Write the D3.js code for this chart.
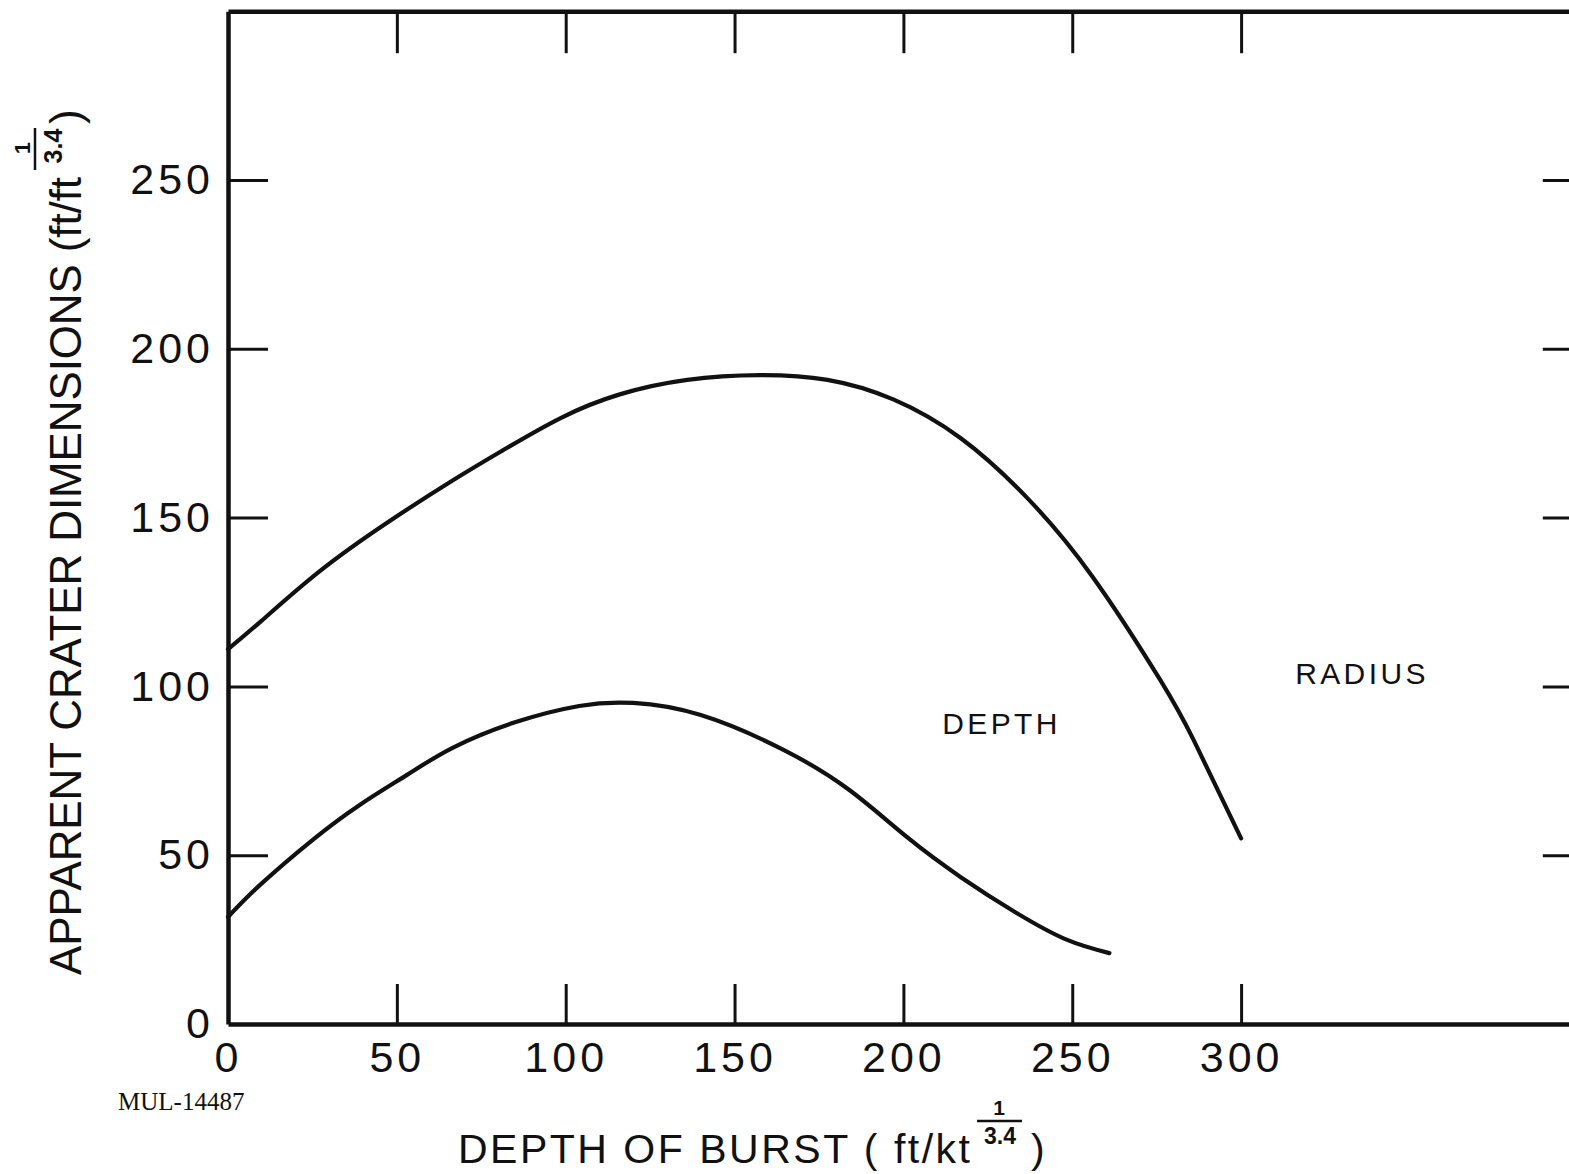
<!DOCTYPE html>
<html><head><meta charset="utf-8">
<script src="https://cdn.jsdelivr.net/npm/d3@7"></script>
<style>body{margin:0;background:#fff}</style>
</head><body>
<svg id="chart" width="1569" height="1174"></svg>
<script>
// ---- data ----
const xTicks = [0, 50, 100, 150, 200, 250, 300];
const yTicks = [0, 50, 100, 150, 200, 250];
const radiusX = [0, 10, 27, 47, 66.5, 81.5, 98.5, 116, 136, 157.5, 177.5, 197, 217, 236.5, 256, 276, 286, 300];
const radiusY = [111, 119.5, 134, 148.4, 161, 170, 179.5, 186.5, 190.8, 192.2, 190.8, 185, 173.5, 156, 132.5, 102, 84, 55];
const depthX = [0, 9.5, 25, 39, 53, 66.5, 84.5, 104, 120, 140, 164.5, 184, 201, 217, 233.5, 248.5, 261];
const depthY = [31.7, 41.2, 54.5, 64.9, 73.8, 81.8, 89.2, 94.2, 95.1, 91.5, 81.2, 69.3, 55.4, 43.5, 32.9, 24.9, 21];
const curveLabels = ["RADIUS", "DEPTH"];
const curveLabelX = [316, 211.5];
const curveLabelY = [104, 89.2];
const sheetId = "MUL-14487";

// ---- scales ----
const svg = d3.select("#chart");
const x = d3.scaleLinear().domain([0, 400]).range([228, 228 + 400 * 3.377]);
const y = d3.scaleLinear().domain([0, 300]).range([1024, 1024 - 300 * 3.376]);

const ink = "#111";
const tickFont = "'Liberation Sans', Arial, sans-serif";

function styleAxis(sel, hideZero) {
  sel.select(".domain").attr("stroke", ink).attr("stroke-width", 4.5);
  sel.selectAll(".tick line").attr("stroke", ink).attr("stroke-width", 3);
  if (hideZero) sel.selectAll(".tick").filter(d => d === 0).select("line").remove();
  sel.selectAll(".tick text").attr("fill", ink).attr("font-family", tickFont)
    .attr("font-size", 43).attr("letter-spacing", 4);
}

// bottom axis
svg.append("g").attr("transform", `translate(0,${y(0)})`)
  .call(d3.axisBottom(x).tickValues(xTicks).tickSize(-40).tickSizeOuter(0).tickPadding(17))
  .call(s => styleAxis(s, true));
// left axis
svg.append("g").attr("transform", `translate(${x(0)},0)`)
  .call(d3.axisLeft(y).tickValues(yTicks).tickSize(-40).tickSizeOuter(0).tickPadding(14))
  .call(s => styleAxis(s, true));
// top axis
svg.append("g").attr("transform", `translate(0,${y(300)})`)
  .call(d3.axisTop(x).tickValues(xTicks.slice(1)).tickSize(-42).tickSizeOuter(0).tickFormat(""))
  .call(s => styleAxis(s, false));
// right axis
svg.append("g").attr("transform", `translate(${x(400)},0)`)
  .call(d3.axisRight(y).tickValues(yTicks.slice(1)).tickSize(-36).tickSizeOuter(0).tickFormat(""))
  .call(s => styleAxis(s, false));

// curves
const line = d3.line().x(d => x(d[0])).y(d => y(d[1])).curve(d3.curveNatural);
const series = [d3.zip(radiusX, radiusY), d3.zip(depthX, depthY)];
svg.selectAll("path.curve").data(series).enter().append("path")
  .attr("class", "curve").attr("d", line)
  .attr("fill", "none").attr("stroke", ink).attr("stroke-width", 4.2)
  .attr("stroke-linecap", "round").attr("stroke-linejoin", "round");

// curve labels
svg.selectAll("text.clab").data(curveLabels).enter().append("text")
  .attr("class", "clab")
  .attr("x", (d, i) => x(curveLabelX[i]))
  .attr("y", (d, i) => y(curveLabelY[i]))
  .attr("dy", "0.36em")
  .attr("font-family", tickFont).attr("font-size", 30).attr("letter-spacing", 3.4)
  .attr("fill", ink).text(d => d);

// x title
const xt = svg.append("g").attr("fill", ink).attr("font-family", tickFont);
xt.append("text").attr("x", 458).attr("y", 1163).attr("font-size", 41)
  .attr("textLength", 512).attr("lengthAdjust", "spacing").text("DEPTH OF BURST ( ft/kt");
xt.append("text").attr("x", 999).attr("y", 1115).attr("text-anchor", "middle")
  .attr("font-size", 21).attr("font-weight", "bold").text("1");
xt.append("line").attr("x1", 977).attr("x2", 1022).attr("y1", 1121).attr("y2", 1121)
  .attr("stroke", ink).attr("stroke-width", 2.5);
xt.append("text").attr("x", 1000).attr("y", 1144).attr("text-anchor", "middle")
  .attr("font-size", 23).attr("font-weight", "bold").text("3.4");
xt.append("text").attr("x", 1031).attr("y", 1163).attr("font-size", 41).text(")");

// y title
const yt = svg.append("g").attr("fill", ink).attr("font-family", tickFont)
  .attr("transform", "translate(81,0) rotate(-90)");
yt.append("text").attr("x", -975).attr("y", 0).attr("font-size", 44)
  .attr("textLength", 798).attr("lengthAdjust", "spacing").text("APPARENT CRATER DIMENSIONS (ft/ft");
yt.append("text").attr("x", -148).attr("y", -51).attr("text-anchor", "middle")
  .attr("font-size", 22).attr("font-weight", "bold").text("1");
yt.append("line").attr("x1", -170).attr("x2", -128).attr("y1", -46).attr("y2", -46)
  .attr("stroke", ink).attr("stroke-width", 2.5);
yt.append("text").attr("x", -146).attr("y", -19).attr("text-anchor", "middle")
  .attr("font-size", 25).attr("font-weight", "bold").text("3.4");
yt.append("text").attr("x", -124).attr("y", 0).attr("font-size", 44).text(")");

// sheet id
svg.append("text").attr("x", 118).attr("y", 1110)
  .attr("font-family", "'Liberation Serif', 'Times New Roman', serif")
  .attr("font-size", 25).attr("fill", ink).text(sheetId);
</script>
</body></html>
